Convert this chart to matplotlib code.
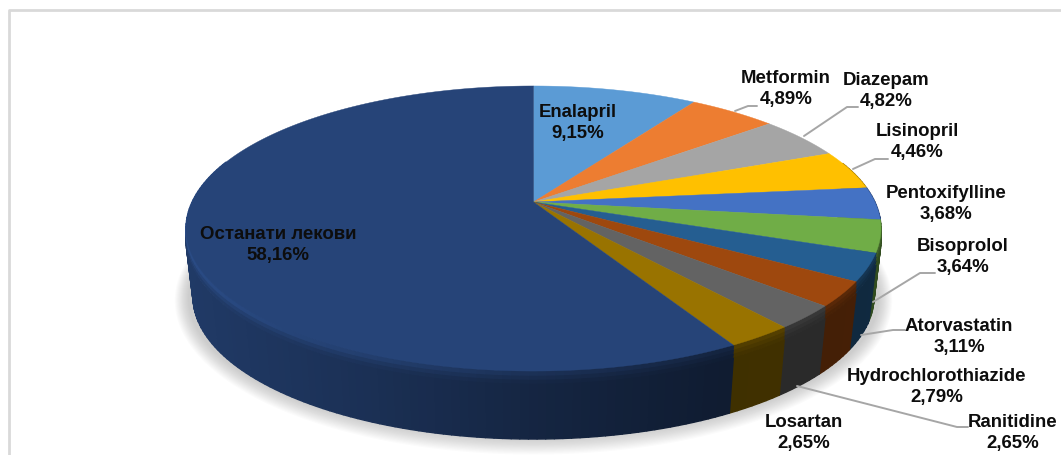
import numpy as np
import matplotlib
matplotlib.use('Agg')
import matplotlib.pyplot as plt
from matplotlib.collections import PolyCollection
from matplotlib.colors import to_rgb

# data, clockwise from 12 o'clock
drugs = ['Enalapril', 'Metformin', 'Diazepam', 'Lisinopril', 'Pentoxifylline', 'Bisoprolol',
         'Atorvastatin', 'Hydrochlorothiazide', 'Ranitidine', 'Losartan', 'Останати лекови']
shares = [9.15, 4.89, 4.82, 4.46, 3.68, 3.64, 3.11, 2.79, 2.65, 2.65, 58.16]
colors = ['#5B9BD5', '#ED7D31', '#A5A5A5', '#FFC000', '#4472C4', '#70AD47',
          '#255E91', '#9E480E', '#636363', '#997300', '#264478']

# layout, in image pixels
label_pos = [(578, 123), (786, 89), (886, 91), (917, 142), (946, 204), (963, 257),
             (959, 337), (937, 387), (1013, 433), (804, 433), (278, 245)]
leaders = [
    [(735, 112), (748, 107), (757, 107)],
    [(804, 137), (847, 108), (858, 108)],
    [(853, 170), (875, 160), (888, 160)],
    [(873, 303), (920, 274), (935, 274)],
    [(861, 336), (893, 331), (905, 331)],
    [(797, 387), (957, 428), (968, 428)],
]

# pie is a tilted disc: a circle put through a perspective map
APEX_X, APEX_Y = 533.5, 203
A, B, K = 341.4, 137.6, 0.186
DEPTH = 68


def rim(theta, grow=0.0):
    u, v = np.sin(theta), np.cos(theta)
    w = 1 + K * v
    return APEX_X + (A + grow) * u / w, APEX_Y - (B + grow) * v / w


def side_shade(x):
    # side gets darker going left to right
    return np.interp(x, [186, 350, 533, 720, 880], [0.85, 0.72, 0.55, 0.41, 0.44])


plt.rcParams['font.family'] = ['Liberation Sans', 'DejaVu Sans']
fig = plt.figure(figsize=(10.61, 4.56), dpi=100)
ax = fig.add_axes([0, 0, 1, 1])
ax.set_xlim(0, 1061)
ax.set_ylim(456, 0)
ax.axis('off')

# chart frame
ax.plot([9, 9, 1061], [456, 11, 11], color='#d9d9d9', lw=2, zorder=1)

edges = np.radians(np.concatenate([[0], np.cumsum(shares)]) * 3.6)

# soft shadow under the disc
t = np.linspace(0, 2 * np.pi, 360)
for g in range(14, 0, -1):
    sx, sy = rim(t, grow=g - 3)
    ax.fill(sx, sy + DEPTH + 2, color='#808080', alpha=0.03, lw=0, zorder=2)

# side wall, in thin strips; rows go bottom up so the lighter lip sits on top
rows = [(12, DEPTH, 1.0), (8, 12, 1.05), (4, 8, 1.16), (0, 4, 1.3)]
for top, bottom, lift in rows:
    polys, fills = [], []
    for i, c in enumerate(colors):
        base = np.array(to_rgb(c))
        n = max(4, int(shares[i] * 3))
        th = np.linspace(edges[i], edges[i + 1], n + 1)
        for a, b in zip(th[:-1], th[1:]):
            if np.cos((a + b) / 2) > 0.3:
                continue
            x0, y0 = rim(a)
            x1, y1 = rim(b)
            f = side_shade((x0 + x1) / 2)
            polys.append([(x0, y0 + top), (x1, y1 + top),
                          (x1 - (x1 - APEX_X) * 0.02 * bottom / DEPTH, y1 + bottom),
                          (x0 - (x0 - APEX_X) * 0.02 * bottom / DEPTH, y0 + bottom)])
            fills.append(np.clip(base * f * lift, 0, 1))
    ax.add_collection(PolyCollection(polys, facecolors=fills, edgecolors=fills, linewidths=1.0, zorder=3))

# top face
for i, c in enumerate(colors):
    th = np.linspace(edges[i], edges[i + 1], max(8, int(shares[i] * 4)))
    x, y = rim(th)
    ax.fill(np.r_[APEX_X, x], np.r_[APEX_Y, y], color=c, lw=0.3, zorder=4)

# leader lines
for pts in leaders:
    xs, ys = zip(*pts)
    ax.plot(xs, ys, color='#a6a6a6', lw=1.4, zorder=5, solid_capstyle='round')

# labels
for name, share, (lx, ly) in zip(drugs, shares, label_pos):
    txt = f'{name}\n{share:.2f}%'.replace('.', ',')
    ax.text(lx, ly, txt, ha='center', va='center', fontsize=13.4, fontweight='bold',
            color='#0d0d0d', linespacing=1.28, zorder=6)

fig.savefig('out.png', dpi=100)
